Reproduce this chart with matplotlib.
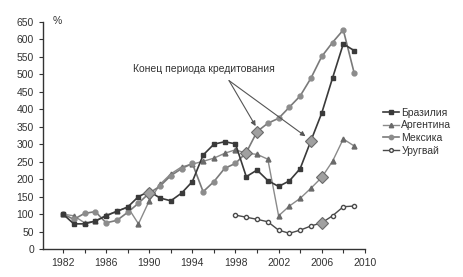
import numpy as np
import matplotlib.pyplot as plt

plt.rcParams['font.family'] = ['Liberation Sans', 'DejaVu Sans']

years = np.arange(1982, 2010)

brazil = [100, 72, 72, 80, 95, 108, 120, 150, 165, 146, 138, 160, 193, 269,
          300, 307, 301, 207, 226, 196, 179, 195, 230, 310, 389, 489, 587, 568]
argentina = [100, 95, 75, 80, 97, 108, 120, 72, 138, 185, 215, 235, 243, 251,
             260, 274, 284, 274, 271, 257, 95, 123, 145, 174, 205, 251, 315, 295]
mexico = [100, 85, 102, 107, 75, 82, 105, 131, 160, 180, 210, 230, 245, 164,
          193, 231, 245, 276, 336, 360, 374, 406, 438, 489, 551, 591, 627, 505]
uruguay_years = np.arange(1998, 2010)
uruguay = [97, 91, 85, 78, 54, 45, 54, 66, 75, 95, 121, 123]

# years where the crediting period ended (big diamonds)
end_brazil = [2005]
end_argentina = [1999, 2006]
end_mexico = [1990, 2000]
end_uruguay = [2006]

labels = ['Бразилия', 'Аргентина', 'Мексика', 'Уругвай']
note = 'Конец периода кредитования'

fig = plt.figure(figsize=(4.63, 2.77), dpi=100)
ax = fig.add_axes([0.093, 0.101, 0.695, 0.82])

ax.plot(years, brazil, color='#3a3a3a', lw=1.2, marker='s', ms=3,
        mfc='#3a3a3a', mec='#3a3a3a', label=labels[0], zorder=3)
ax.plot(years, argentina, color='#8a8a8a', lw=1.0, marker='^', ms=3.5,
        mfc='#6a6a6a', mec='#6a6a6a', label=labels[1], zorder=2)
ax.plot(years, mexico, color='#7a7a7a', lw=1.2, marker='o', ms=3.5,
        mfc='#8c8c8c', mec='#8c8c8c', label=labels[2], zorder=2)
ax.plot(uruguay_years, uruguay, color='#4a4a4a', lw=1.0, marker='o', ms=3,
        mfc='white', mec='#4a4a4a', label=labels[3], zorder=3)

for yrs, ser, ends in [(years, brazil, end_brazil), (years, argentina, end_argentina),
                       (years, mexico, end_mexico), (uruguay_years, uruguay, end_uruguay)]:
    for e in ends:
        v = ser[list(yrs).index(e)]
        ax.plot(e, v, marker='D', ms=6, mfc='#a0a0a0', mec='#6a6a6a', mew=0.8, zorder=4)

# note text and two arrows from one point
ax.text(1995.1, 500, note, fontsize=7.5, ha='center', va='bottom', color='#333333')
for target in [(2000, 345), (2004.7, 318)]:
    ax.annotate('', xy=target, xytext=(1997.4, 482),
                arrowprops=dict(arrowstyle='-|>', color='#555555', lw=0.8,
                                shrinkA=0, shrinkB=2, mutation_scale=7))

ax.set_xlim(1980.15, 2010)
ax.set_ylim(0, 650)
ax.set_yticks(np.arange(0, 651, 50))
ax.set_xticks(np.arange(1982, 2011, 4))
ax.set_xticks(np.arange(1984, 2011, 4), minor=True)
ax.tick_params(labelsize=7.5, colors='#333333', length=3, width=0.8)
ax.tick_params(which='minor', length=3, width=0.8, color='#333333')
for s in ['top', 'right']:
    ax.spines[s].set_visible(False)
for s in ['left', 'bottom']:
    ax.spines[s].set_color('#333333')
    ax.spines[s].set_linewidth(1.0)

ax.text(1981.0, 652, '%', fontsize=7.5, color='#333333', va='center')

fig.legend(loc='upper left', bbox_to_anchor=(0.815, 0.63), frameon=False,
           fontsize=7.5, handlelength=1.6, handletextpad=0.2, labelspacing=0.25,
           borderpad=0, markerscale=0.9, labelcolor='#333333')

fig.savefig('out.png', dpi=100)
